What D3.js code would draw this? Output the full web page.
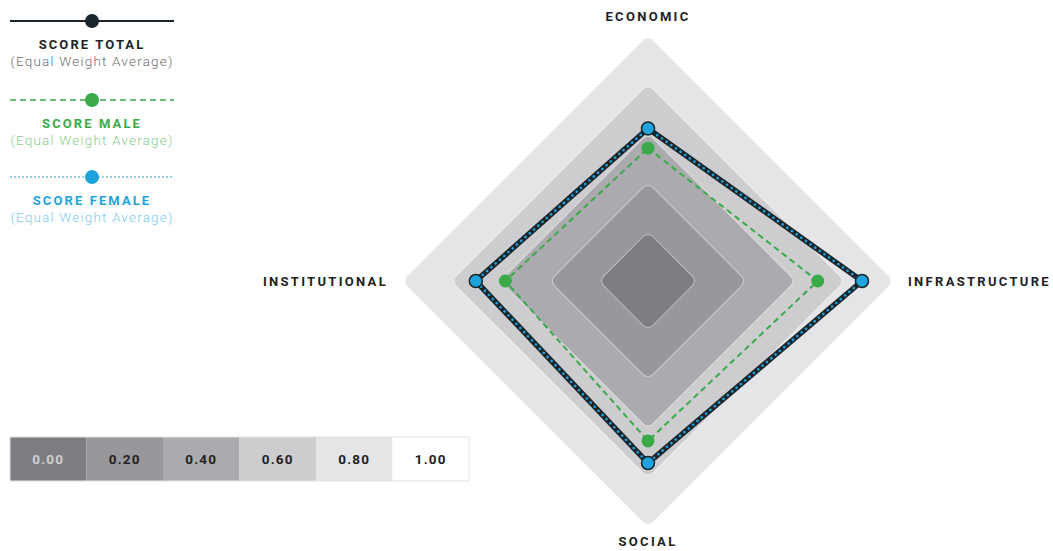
<!DOCTYPE html>
<html>
<head>
<meta charset="utf-8">
<script src="https://cdn.jsdelivr.net/npm/d3@7"></script>
<style>
  html, body { margin: 0; padding: 0; background: #ffffff; }
  svg { display: block; font-family: Roboto, "Noto Sans", sans-serif; }
</style>
</head>
<body>
<svg id="chart" width="1053" height="551"></svg>
<script>
// ---------- data ----------
const axes = ["ECONOMIC", "INFRASTRUCTURE", "SOCIAL", "INSTITUTIONAL"];
const scoreTotal  = [0.62, 0.87, 0.74, 0.70];
const scoreMale   = [0.54, 0.69, 0.65, 0.58];
const scoreFemale = [0.62, 0.87, 0.74, 0.70];
const levelTicks  = ["0.00", "0.20", "0.40", "0.60", "0.80", "1.00"];
const levelValues = [0.2, 0.4, 0.6, 0.8, 1.0];
const legendTitles = ["SCORE TOTAL", "SCORE MALE", "SCORE FEMALE"];
const legendSubtitle = "(Equal Weight Average)";

// ---------- styles ----------
const levelColors = ["#7e7e82", "#98989c", "#ababaf", "#cdcdd0", "#e5e5e7", "#ffffff"];
const levelTextColors = ["#cfcfd2", "#222", "#222", "#222", "#222", "#222"];
const cTotal = "#1b262c", cMale = "#3aaa48", cFemale = "#1fa3dd";

const svg = d3.select("#chart");
const cx = 648, cy = 281, R = 246;
const r = d3.scaleLinear().domain([0, 1]).range([0, R]);
const angle = d3.scalePoint().domain(axes).range([0, 2 * Math.PI * 3 / 4]);

const g = svg.append("g").attr("transform", `translate(${cx},${cy})`);

// levels (drawn largest first)
const levels = levelValues.slice().reverse();
g.selectAll("rect.level").data(levels).enter().append("rect")
  .attr("class", "level")
  .attr("x", d => -r(d) / Math.SQRT2)
  .attr("y", d => -r(d) / Math.SQRT2)
  .attr("width", d => r(d) * Math.SQRT2)
  .attr("height", d => r(d) * Math.SQRT2)
  .attr("rx", 7).attr("ry", 7)
  .attr("transform", "rotate(45)")
  .attr("fill", d => levelColors[levelValues.indexOf(d)])
  .attr("stroke", "#ffffff").attr("stroke-opacity", 0.45).attr("stroke-width", 1);

const pt = (v, i) => {
  const a = angle(axes[i]);
  return [Math.sin(a) * r(v), -Math.cos(a) * r(v)];
};
const line = d3.line().curve(d3.curveLinearClosed);

// male
g.append("path").attr("d", line(scoreMale.map(pt)))
  .attr("fill", "none").attr("stroke", cMale).attr("stroke-width", 2)
  .attr("stroke-dasharray", "6,4");
// total
g.append("path").attr("d", line(scoreTotal.map(pt)))
  .attr("fill", "none").attr("stroke", cTotal).attr("stroke-width", 5.5)
  .attr("stroke-linejoin", "round");
// female (dotted)
g.append("path").attr("d", line(scoreFemale.map(pt)))
  .attr("fill", "none").attr("stroke", cFemale).attr("stroke-width", 2.6)
  .attr("stroke-linecap", "round").attr("stroke-dasharray", "0.1,5.6");

g.selectAll("circle.male").data(scoreMale).enter().append("circle")
  .attr("cx", (d, i) => pt(d, i)[0]).attr("cy", (d, i) => pt(d, i)[1])
  .attr("r", 6.5).attr("fill", cMale);
g.selectAll("circle.total").data(scoreTotal).enter().append("circle")
  .attr("cx", (d, i) => pt(d, i)[0]).attr("cy", (d, i) => pt(d, i)[1])
  .attr("r", 6).attr("fill", cTotal);
g.selectAll("circle.female").data(scoreFemale).enter().append("circle")
  .attr("cx", (d, i) => pt(d, i)[0]).attr("cy", (d, i) => pt(d, i)[1])
  .attr("r", 6.5).attr("fill", cFemale).attr("stroke", cTotal).attr("stroke-width", 1.5);

// axis labels
const labelPos = (d, i) => {
  const a = angle(d);
  if (i === 0) return [0, -(R + 14)];
  if (i === 2) return [0, R + 19];
  return [Math.sin(a) * (R + 14), 4.5];
};
g.selectAll("text.axis").data(axes).enter().append("text")
  .attr("class", "axis")
  .attr("x", (d, i) => labelPos(d, i)[0])
  .attr("y", (d, i) => labelPos(d, i)[1])
  .attr("text-anchor", (d, i) => i === 1 ? "start" : i === 3 ? "end" : "middle")
  .attr("font-size", 13).attr("font-weight", 700).attr("letter-spacing", 2.3)
  .attr("fill", "#222").text(d => d);

// legend
const lg = svg.append("g");
const legendY = [21, 100, 177];
const legendColors = [cTotal, cMale, cFemale];
const subColors = ["#6f6f6f", "#88cc8e", "#7ccbee"];
const dashes = [null, "6,4", "2,2"];
const widths = [2, 1.6, 1.2];
legendTitles.forEach((t, i) => {
  const y = legendY[i];
  lg.append("line").attr("x1", 10).attr("x2", 174).attr("y1", y).attr("y2", y)
    .attr("stroke", legendColors[i]).attr("stroke-width", widths[i])
    .attr("stroke-dasharray", dashes[i]);
  lg.append("circle").attr("cx", 92).attr("cy", y).attr("r", 7).attr("fill", legendColors[i]);
  lg.append("text").attr("x", 92).attr("y", y + 28).attr("text-anchor", "middle")
    .attr("font-size", 13).attr("font-weight", 700).attr("letter-spacing", 2.1)
    .attr("fill", i === 0 ? "#222" : legendColors[i]).text(t);
  lg.append("text").attr("x", 92).attr("y", y + 45).attr("text-anchor", "middle")
    .attr("font-size", 13.5).attr("font-weight", 300).attr("letter-spacing", 1.2)
    .attr("fill", subColors[i]).text(legendSubtitle);
});

// level colour scale
const band = d3.scaleBand().domain(levelTicks).range([10, 469]);
const sg = svg.append("g");
sg.selectAll("rect").data(levelTicks).enter().append("rect")
  .attr("x", d => band(d)).attr("y", 437)
  .attr("width", band.bandwidth()).attr("height", 44)
  .attr("fill", (d, i) => levelColors[i]);
sg.append("rect").attr("x", 10).attr("y", 437).attr("width", 459).attr("height", 44)
  .attr("fill", "none").attr("stroke", "#e2e2e2").attr("stroke-width", 1);
sg.selectAll("text").data(levelTicks).enter().append("text")
  .attr("x", d => band(d) + band.bandwidth() / 2).attr("y", 459).attr("dy", "0.35em")
  .attr("text-anchor", "middle").attr("font-size", 13.5).attr("font-weight", 700)
  .attr("letter-spacing", 1.2)
  .attr("fill", (d, i) => levelTextColors[i]).text(d => d);
</script>
</body>
</html>
